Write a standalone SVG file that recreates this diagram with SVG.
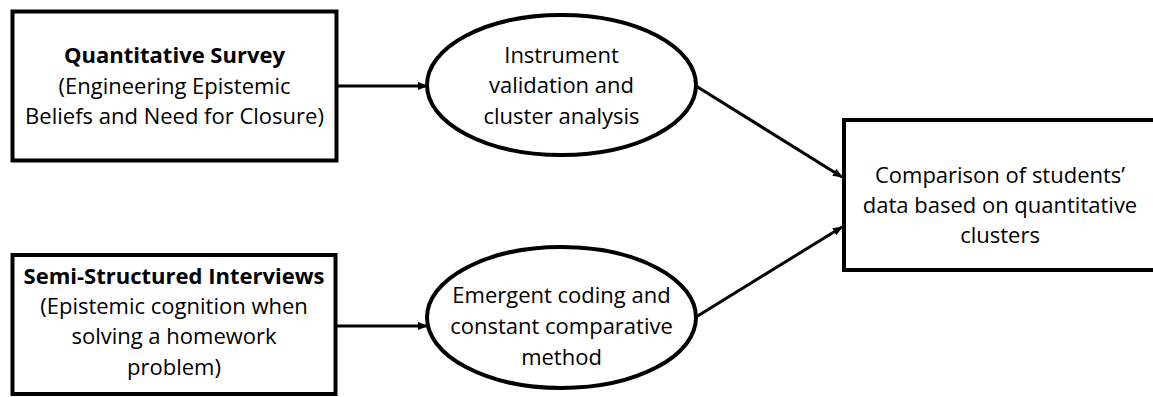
<svg xmlns="http://www.w3.org/2000/svg" width="1153" height="397" viewBox="0 0 1153 397">
<style>
.box{fill:#fff;stroke:#000;stroke-width:4}
.ell{fill:#fff;stroke:#000;stroke-width:4}
.t{font-family:"Open Sans","Noto Sans",sans-serif;font-size:22px;fill:#000;text-anchor:middle}
.b{font-weight:bold}
.c{stroke:#000;stroke-width:3;fill:none;marker-end:url(#ah)}
</style>
<defs>
<marker id="ah" markerWidth="10" markerHeight="8" refX="9" refY="4" orient="auto" markerUnits="userSpaceOnUse">
<path d="M0,0 L10,4 L0,8 Z" fill="#000"/>
</marker>
</defs>
<g id="connectors">
<line class="c" x1="337" y1="86" x2="427" y2="86"/>
<line class="c" x1="335" y1="326" x2="427" y2="326"/>
<line class="c" x1="696" y1="86" x2="842" y2="177"/>
<line class="c" x1="696" y1="317" x2="842" y2="227"/>
</g>
<g id="survey">
<rect class="box" x="12.5" y="11.5" width="324" height="149"/>
<text class="t b" x="174.5" y="63">Quantitative Survey</text>
<text class="t" x="174.5" y="94">(Engineering Epistemic</text>
<text class="t" x="174.5" y="124">Beliefs and Need for Closure)</text>
</g>
<g id="interviews">
<rect class="box" x="12.5" y="255" width="323" height="139"/>
<text class="t b" x="174" y="284">Semi-Structured Interviews</text>
<text class="t" x="174" y="314">(Epistemic cognition when</text>
<text class="t" x="174" y="344">solving a homework</text>
<text class="t" x="174" y="375">problem)</text>
</g>
<g id="validation">
<ellipse class="ell" cx="561.5" cy="85" rx="134.5" ry="70"/>
<text class="t" x="561.5" y="63">Instrument</text>
<text class="t" x="561.5" y="93">validation and</text>
<text class="t" x="561.5" y="124">cluster analysis</text>
</g>
<g id="coding">
<ellipse class="ell" cx="561.5" cy="317.5" rx="134.5" ry="70.5"/>
<text class="t" x="561.5" y="303">Emergent coding and</text>
<text class="t" x="561.5" y="334">constant comparative</text>
<text class="t" x="561.5" y="365">method</text>
</g>
<g id="comparison">
<rect class="box" x="844" y="120" width="320" height="150"/>
<text class="t" x="1000" y="183">Comparison of students’</text>
<text class="t" x="1000" y="213">data based on quantitative</text>
<text class="t" x="1000" y="243">clusters</text>
</g>
</svg>
